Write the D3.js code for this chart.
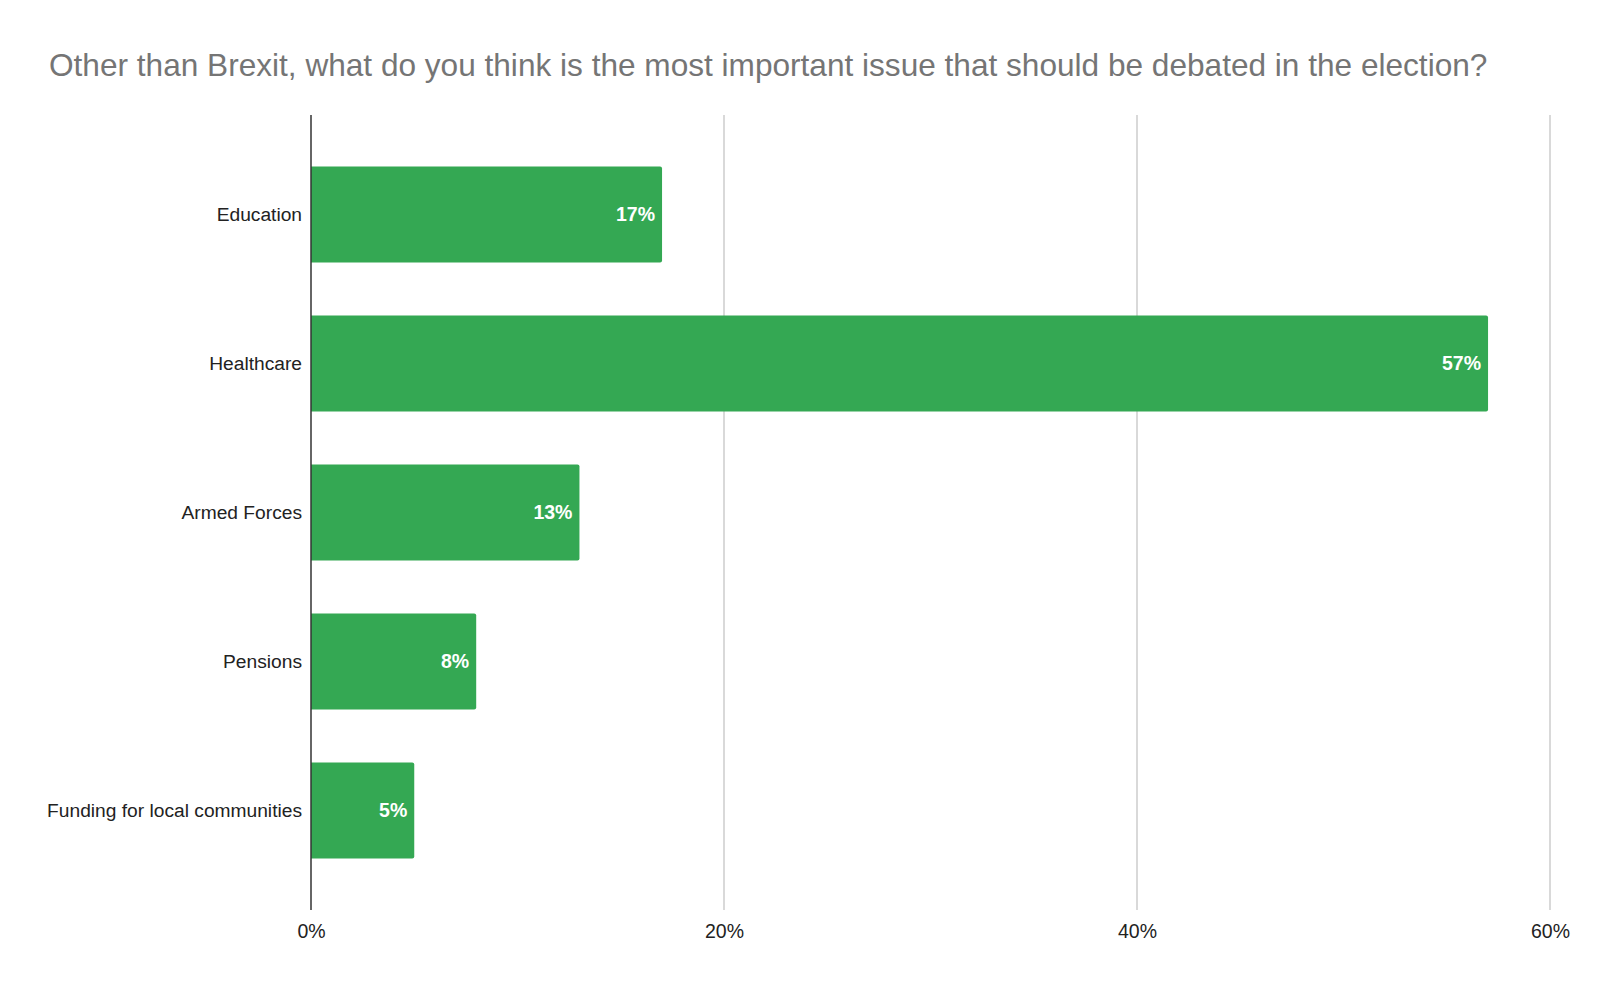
<!DOCTYPE html>
<html lang="en">
<head>
  <meta charset="UTF-8">
  <title>Most important issue other than Brexit</title>
  <script src="https://d3js.org/d3.v7.min.js"></script>
  <style>
    body { margin: 0; background: #fff; font-family: "Liberation Sans", Arial, sans-serif; }
    svg { display: block; }
    .grid line { stroke: #cccccc; stroke-width: 1.5px; }
    .tick text { fill: #222; }
  </style>
</head>
<body>
  <svg id="chart" width="1600" height="989"></svg>
  <script>
    const categories = ["Education", "Healthcare", "Armed Forces", "Pensions", "Funding for local communities"];
    const values = [17, 57, 13, 8, 5];
    const ticks = [0, 20, 40, 60];

    const svg = d3.select("#chart");
    const margin = { top: 115, right: 50, bottom: 79, left: 311 };
    const width = 1600, height = 989;

    const x = d3.scaleLinear()
      .domain([0, 60])
      .range([margin.left, width - margin.right]);

    const y = d3.scaleBand()
      .domain(categories)
      .range([margin.top, height - margin.bottom])
      .paddingInner(0.356)
      .paddingOuter(0.346);

    // Title
    svg.append("text")
      .attr("x", 49)
      .attr("y", 76)
      .attr("fill", "#757575")
      .style("font-size", "31.6px")
      .text("Other than Brexit, what do you think is the most important issue that should be debated in the election?");

    // Gridlines (skip 0, the axis line covers it)
    svg.append("g")
      .attr("class", "grid")
      .selectAll("line")
      .data(ticks.filter(d => d > 0))
      .join("line")
        .attr("x1", d => x(d))
        .attr("x2", d => x(d))
        .attr("y1", margin.top)
        .attr("y2", height - margin.bottom);

    // Bars
    svg.append("g")
      .selectAll("path")
      .data(categories)
      .join("path")
        .attr("fill", "#34a853")
        .attr("d", (c, i) => {
          const x0 = x(0), x1 = x(values[i]), y0 = y(c), h = y.bandwidth(), r = 2;
          return `M${x0},${y0}H${x1 - r}Q${x1},${y0} ${x1},${y0 + r}V${y0 + h - r}Q${x1},${y0 + h} ${x1 - r},${y0 + h}H${x0}Z`;
        });

    // Value labels
    svg.append("g")
      .selectAll("text")
      .data(categories)
      .join("text")
        .attr("x", (c, i) => x(values[i]) - 7)
        .attr("y", c => y(c) + y.bandwidth() / 2)
        .attr("dy", "0.35em")
        .attr("text-anchor", "end")
        .attr("fill", "#fff")
        .style("font-size", "19.5px")
        .style("font-weight", "bold")
        .text((c, i) => values[i] + "%");

    // Y axis
    const yAxis = svg.append("g")
      .attr("transform", `translate(${margin.left},0)`)
      .call(d3.axisLeft(y).tickSize(0).tickPadding(9));
    yAxis.select(".domain").remove();
    yAxis.selectAll("text").style("font-size", "19.2px").style("font-family", "'Liberation Sans', Arial, sans-serif");

    svg.append("line")
      .attr("x1", x(0)).attr("x2", x(0))
      .attr("y1", margin.top).attr("y2", height - margin.bottom)
      .attr("stroke", "#333")
      .attr("stroke-width", 1.5);

    // X axis
    const xAxis = svg.append("g")
      .attr("transform", `translate(0,${height - margin.bottom})`)
      .call(d3.axisBottom(x).tickValues(ticks).tickFormat(d => d + "%").tickSize(0).tickPadding(14));
    xAxis.select(".domain").remove();
    xAxis.selectAll("text").style("font-size", "19.5px").style("font-family", "'Liberation Sans', Arial, sans-serif");
  </script>
</body>
</html>
